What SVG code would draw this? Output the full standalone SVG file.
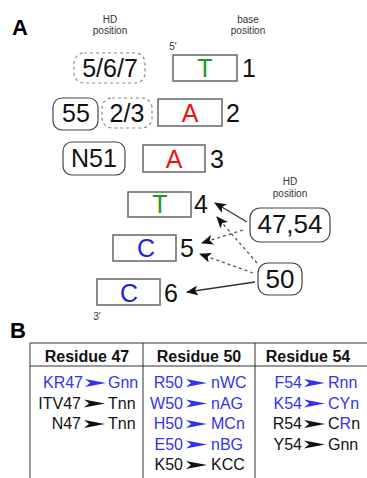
<svg xmlns="http://www.w3.org/2000/svg" width="367" height="478" viewBox="0 0 367 478">
<defs>
<style>
text{font-family:"Liberation Sans",Arial,sans-serif;}
.lbl{font-size:22px;font-weight:bold;fill:#000;}
.sm{font-size:10px;fill:#333;text-anchor:middle;}
.big{font-size:25px;fill:#111;}
.mid{text-anchor:middle;}
.box{fill:#fff;stroke:#666;stroke-width:1.5;}
.rnd{fill:#fff;stroke:#444;stroke-width:1.2;}
.dsh{fill:#fff;stroke:#888;stroke-width:1.2;stroke-dasharray:3 3;}
.g{fill:#1a9a1a;}
.r{fill:#ee1111;}
.b{fill:#2222dd;}
.con{stroke:#333;stroke-width:1.3;fill:none;}
.dcon{stroke:#555;stroke-width:1.3;fill:none;stroke-dasharray:3 3;}
.tl{stroke:#333;stroke-width:1;fill:none;}
.hd{font-size:16px;font-weight:bold;fill:#111;text-anchor:middle;}
.tx{font-size:16px;fill:#111;}
.bl{fill:#3333ee;}
.e{text-anchor:end;}
.ar{fill:#111;}
.arb{fill:#3333ee;}
</style>
<marker id="ah" viewBox="0 0 12 10" refX="11" refY="5" markerWidth="12" markerHeight="10" markerUnits="userSpaceOnUse" orient="auto">
<path d="M0,0 L12,5 L0,10 L3,5 Z" fill="#111"/>
</marker>
<path id="tar" d="M0,-4 L21,0 L0,4 L5,0 Z"/>
</defs>
<rect width="367" height="478" fill="#fff"/>

<text class="lbl" x="12" y="35">A</text>
<text class="lbl" x="10" y="338">B</text>

<g id="hd-label-top">
<text class="sm" x="110" y="23">HD</text>
<text class="sm" x="110" y="34">position</text>
</g>
<g id="base-label">
<text class="sm" x="248" y="23">base</text>
<text class="sm" x="248" y="34">position</text>
</g>
<text class="sm" x="173" y="50">5'</text>
<text class="sm" x="97" y="320">3'</text>

<g id="hd-567">
<rect class="dsh" x="74" y="53" width="71" height="30" rx="10"/>
<text class="big mid" x="110" y="77">5/6/7</text>
</g>
<g id="base1">
<rect class="box" x="173" y="55" width="64" height="26"/>
<text class="big mid g" x="205" y="77">T</text>
<text class="big" x="242" y="77">1</text>
</g>

<g id="hd-55">
<rect class="rnd" x="53" y="98" width="45" height="32" rx="9"/>
<text class="big mid" x="76" y="122">55</text>
</g>
<g id="hd-23">
<rect class="dsh" x="102" y="98" width="50" height="30" rx="10"/>
<text class="big mid" x="127" y="122">2/3</text>
</g>
<g id="base2">
<rect class="box" x="158" y="99" width="64" height="27"/>
<text class="big mid r" x="190" y="122">A</text>
<text class="big" x="226" y="122">2</text>
</g>

<g id="hd-n51">
<rect class="rnd" x="63" y="142" width="62" height="33" rx="9"/>
<text class="big mid" x="94" y="167">N51</text>
</g>
<g id="base3">
<rect class="box" x="143" y="145" width="62" height="27"/>
<text class="big mid r" x="174" y="168">A</text>
<text class="big" x="210" y="168">3</text>
</g>

<g id="base4">
<rect class="box" x="128" y="192" width="63" height="25"/>
<text class="big mid g" x="160" y="213">T</text>
<text class="big" x="194" y="213">4</text>
</g>
<g id="base5">
<rect class="box" x="113" y="235" width="63" height="26"/>
<text class="big mid b" x="146" y="257">C</text>
<text class="big" x="180" y="257">5</text>
</g>
<g id="base6">
<rect class="box" x="97" y="279" width="63" height="26"/>
<text class="big mid b" x="129" y="302">C</text>
<text class="big" x="164" y="302">6</text>
</g>

<g id="hd-label-right">
<text class="sm" x="290" y="185">HD</text>
<text class="sm" x="290" y="197">position</text>
</g>
<g id="hd-4754">
<rect class="rnd" x="250" y="208" width="80" height="34" rx="10"/>
<text class="big mid" x="290" y="233" style="font-size:26px">47,54</text>
</g>
<g id="hd-50">
<rect class="rnd" x="258" y="263" width="44" height="32" rx="10"/>
<text class="big mid" x="280" y="288" style="font-size:26px">50</text>
</g>

<g id="connectors">
<line class="con" x1="247" y1="222" x2="215" y2="203" marker-end="url(#ah)"/>
<line class="dcon" x1="243" y1="230" x2="202" y2="243" marker-end="url(#ah)"/>
<line class="dcon" x1="257" y1="263" x2="217" y2="217" marker-end="url(#ah)"/>
<line class="dcon" x1="253" y1="273" x2="200" y2="254" marker-end="url(#ah)"/>
<line class="con" x1="255" y1="282" x2="187" y2="292" marker-end="url(#ah)"/>
</g>

<g id="table">
<path class="tl" d="M30,478 V343 H367 M30,366 H367 M143,343 V478 M255,343 V478"/>
<text class="hd" x="87" y="362">Residue 47</text>
<text class="hd" x="199" y="362">Residue 50</text>
<text class="hd" x="308" y="362">Residue 54</text>

<g id="col47">
<text class="tx bl e" x="83" y="388">KR47</text>
<use href="#tar" x="85" y="383" class="arb"/>
<text class="tx bl" x="108" y="388">Gnn</text>
<text class="tx e" x="81" y="408.5">ITV47</text>
<use href="#tar" x="84" y="403.5" class="ar"/>
<text class="tx" x="108" y="408.5">Tnn</text>
<text class="tx e" x="81" y="429">N47</text>
<use href="#tar" x="84" y="424" class="ar"/>
<text class="tx" x="108" y="429">Tnn</text>
</g>

<g id="col50">
<text class="tx bl e" x="183" y="388">R50</text>
<use href="#tar" x="186" y="383" class="arb"/>
<text class="tx bl" x="211" y="388">nWC</text>
<text class="tx bl e" x="183" y="408.5">W50</text>
<use href="#tar" x="186" y="403.5" class="arb"/>
<text class="tx bl" x="211" y="408.5">nAG</text>
<text class="tx bl e" x="183" y="429">H50</text>
<use href="#tar" x="186" y="424" class="arb"/>
<text class="tx bl" x="211" y="429">MCn</text>
<text class="tx bl e" x="183" y="449.5">E50</text>
<use href="#tar" x="186" y="444.5" class="arb"/>
<text class="tx bl" x="211" y="449.5">nBG</text>
<text class="tx e" x="183" y="470">K50</text>
<use href="#tar" x="186" y="465" class="ar"/>
<text class="tx" x="211" y="470">KCC</text>
</g>

<g id="col54">
<text class="tx bl e" x="302" y="388">F54</text>
<use href="#tar" x="304" y="383" class="arb"/>
<text class="tx bl" x="328" y="388">Rnn</text>
<text class="tx bl e" x="302" y="408.5">K54</text>
<use href="#tar" x="304" y="403.5" class="arb"/>
<text class="tx bl" x="328" y="408.5">CYn</text>
<text class="tx e" x="302" y="429">R54</text>
<use href="#tar" x="304" y="424" class="ar"/>
<text class="tx" x="328" y="429">C<tspan class="bl">R</tspan>n</text>
<text class="tx e" x="302" y="449.5">Y54</text>
<use href="#tar" x="304" y="444.5" class="ar"/>
<text class="tx" x="328" y="449.5">Gnn</text>
</g>
</g>
</svg>
